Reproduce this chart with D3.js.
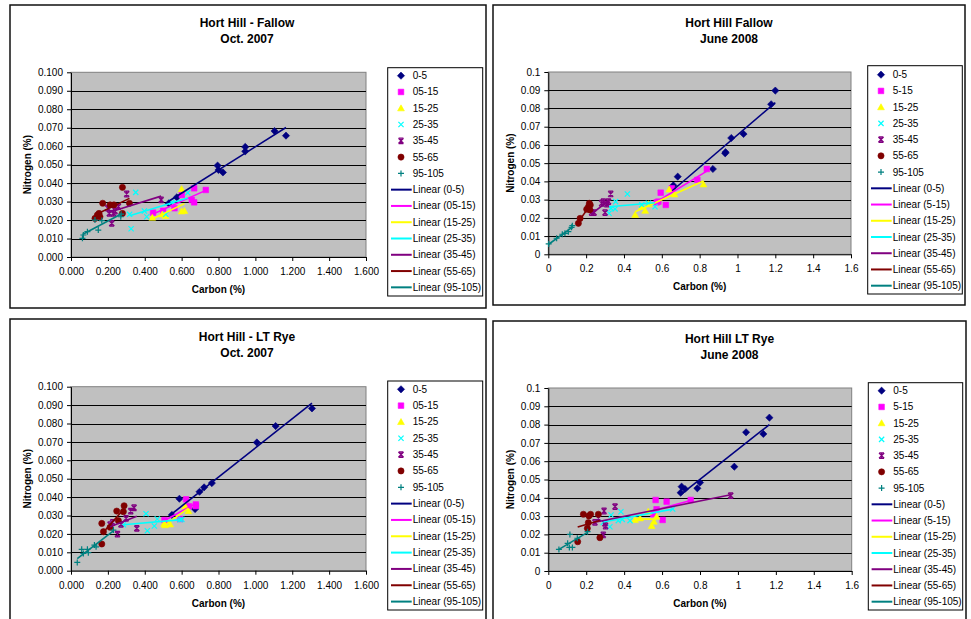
<!DOCTYPE html>
<html><head><meta charset="utf-8">
<script src="https://cdn.jsdelivr.net/npm/d3@7"></script>
<style>body{margin:0;background:#fff}svg{display:block}</style>
</head><body>
<svg id="c" width="971" height="619"></svg>
<script>
// ---------- DATA ----------
const seriesNames2007 = ["0-5","05-15","15-25","25-35","35-45","55-65","95-105"];
const seriesNames2008 = ["0-5","5-15","15-25","25-35","35-45","55-65","95-105"];
const seriesColors = ["#000080","#FF00FF","#FFFF00","#00FFFF","#800080","#800000","#008080"];
const markerShapes = ["diamond","square","triangle","x","star","circle","plus"];
const panelTitles = [["Hort Hill - Fallow","Oct. 2007"],["Hort Hill Fallow","June 2008"],["Hort Hill - LT Rye","Oct. 2007"],["Hort Hill LT Rye","June 2008"]];
const xTitle = "Carbon (%)";
const yTitle = "Nitrogen (%)";
const xTickValues = [0,0.2,0.4,0.6,0.8,1.0,1.2,1.4,1.6];
const xTickLabels2007 = ["0.000","0.200","0.400","0.600","0.800","1.000","1.200","1.400","1.600"];
const xTickLabels2008 = ["0","0.2","0.4","0.6","0.8","1","1.2","1.4","1.6"];
const yTickValues = [0,0.01,0.02,0.03,0.04,0.05,0.06,0.07,0.08,0.09,0.1];
const yTickLabels2007 = ["0.000","0.010","0.020","0.030","0.040","0.050","0.060","0.070","0.080","0.090","0.100"];
const yTickLabels2008 = ["0","0.01","0.02","0.03","0.04","0.05","0.06","0.07","0.08","0.09","0.1"];

// each: 7 series of [carbon %, nitrogen %]
const fallowOct2007 = [
  [[0.530,0.0290],[0.574,0.0323],[0.795,0.0495],[0.800,0.0471],[0.824,0.0458],[0.945,0.0596],[0.945,0.0572],[1.104,0.0682],[1.166,0.0657]],
  [[0.445,0.0240],[0.500,0.0250],[0.561,0.0264],[0.601,0.0336],[0.655,0.0309],[0.668,0.0296],[0.668,0.0372],[0.731,0.0363]],
  [[0.441,0.0213],[0.495,0.0231],[0.513,0.0222],[0.600,0.0368],[0.600,0.0247],[0.615,0.0250]],
  [[0.318,0.0231],[0.326,0.0153],[0.351,0.0350],[0.398,0.0249],[0.411,0.0218],[0.514,0.0231],[0.547,0.0296],[0.633,0.0348]],
  [[0.199,0.0265],[0.208,0.0236],[0.221,0.0182],[0.230,0.0236],[0.239,0.0249],[0.257,0.0273],[0.302,0.0341],[0.489,0.0309]],
  [[0.130,0.0209],[0.143,0.0227],[0.152,0.0236],[0.157,0.0218],[0.172,0.0291],[0.212,0.0282],[0.233,0.0282],[0.279,0.0377],[0.279,0.0236],[0.317,0.0291]],
  [[0.062,0.0101],[0.067,0.0119],[0.089,0.0137],[0.130,0.0200],[0.148,0.0146],[0.167,0.0197],[0.270,0.0218],[0.272,0.0232]]
];
const fallowJun2008 = [
  [[0.655,0.0360],[0.661,0.0378],[0.684,0.0426],[0.870,0.0468],[0.935,0.0554],[0.937,0.0560],[0.967,0.0638],[1.032,0.0660],[1.178,0.0823],[1.200,0.0898]],
  [[0.573,0.0285],[0.582,0.0289],[0.594,0.0338],[0.621,0.0271],[0.653,0.0362],[0.788,0.0408],[0.838,0.0468]],
  [[0.459,0.0216],[0.494,0.0261],[0.512,0.0239],[0.530,0.0275],[0.639,0.0356],[0.667,0.0329],[0.820,0.0384]],
  [[0.321,0.0225],[0.332,0.0252],[0.353,0.0249],[0.356,0.0289],[0.418,0.0331],[0.494,0.0271],[0.529,0.0280],[0.564,0.0261]],
  [[0.229,0.0229],[0.242,0.0229],[0.282,0.0280],[0.291,0.0289],[0.300,0.0229],[0.309,0.0276],[0.318,0.0289],[0.330,0.0331]],
  [[0.159,0.0170],[0.168,0.0197],[0.203,0.0247],[0.212,0.0261],[0.217,0.0280],[0.220,0.0243],[0.222,0.0270]],
  [[0.002,0.0057],[0.044,0.0088],[0.074,0.0110],[0.088,0.0115],[0.106,0.0124],[0.123,0.0148],[0.127,0.0157]]
];
const ryeOct2007 = [
  [[0.547,0.0303],[0.588,0.0391],[0.673,0.0335],[0.697,0.0429],[0.722,0.0453],[0.764,0.0476],[1.008,0.0697],[1.110,0.0786],[1.307,0.0882]],
  [[0.507,0.0275],[0.592,0.0281],[0.624,0.0388],[0.640,0.0350],[0.677,0.0351],[0.677,0.0360]],
  [[0.505,0.0255],[0.510,0.0248],[0.538,0.0252],[0.619,0.0350],[0.637,0.0324]],
  [[0.284,0.0250],[0.407,0.0310],[0.414,0.0217],[0.452,0.0243],[0.468,0.0281],[0.591,0.0277],[0.601,0.0279]],
  [[0.212,0.0250],[0.226,0.0263],[0.252,0.0199],[0.271,0.0252],[0.299,0.0284],[0.324,0.0324],[0.342,0.0342],[0.357,0.0230]],
  [[0.167,0.0257],[0.167,0.0145],[0.176,0.0212],[0.212,0.0236],[0.248,0.0324],[0.257,0.0272],[0.284,0.0321],[0.288,0.0353]],
  [[0.034,0.0045],[0.058,0.0116],[0.067,0.0094],[0.089,0.0116],[0.094,0.0098],[0.127,0.0139],[0.136,0.0130],[0.230,0.0221]]
];
const ryeJun2008 = [
  [[0.698,0.0428],[0.703,0.0461],[0.721,0.0448],[0.786,0.0452],[0.800,0.0483],[0.981,0.0570],[1.043,0.0758],[1.134,0.0749],[1.166,0.0838]],
  [[0.554,0.0310],[0.566,0.0388],[0.571,0.0337],[0.603,0.0279],[0.624,0.0379],[0.751,0.0388]],
  [[0.457,0.0279],[0.484,0.0288],[0.527,0.0324],[0.545,0.0246],[0.557,0.0270],[0.571,0.0297]],
  [[0.290,0.0265],[0.325,0.0242],[0.331,0.0306],[0.369,0.0275],[0.383,0.0324],[0.390,0.0282],[0.431,0.0275],[0.656,0.0339]],
  [[0.246,0.0266],[0.264,0.0288],[0.290,0.0197],[0.294,0.0328],[0.299,0.0260],[0.302,0.0246],[0.352,0.0352],[0.962,0.0412]],
  [[0.155,0.0160],[0.185,0.0310],[0.206,0.0233],[0.211,0.0264],[0.214,0.0301],[0.223,0.0310],[0.264,0.0310],[0.272,0.0182]],
  [[0.056,0.0118],[0.102,0.0151],[0.111,0.0129],[0.114,0.0200],[0.127,0.0129],[0.153,0.0179],[0.207,0.0215]]
];

// ---------- LAYOUT ----------
const FONT = "'Liberation Sans', Arial, sans-serif";
const panels = [
  {data: fallowOct2007, title: panelTitles[0], names: seriesNames2007, xl: xTickLabels2007, yl: yTickLabels2007,
   frame:[10,5,486,308], plot:[71,72.3,366,257], legend:[387.7,67.7,482.7,296], legY0:75.7, legDy:16.28,
   titleX:247, titleY:[22.7,39], xLabY:271, xTitleY:289.3, yTitleX:27.3},
  {data: fallowJun2008, title: panelTitles[1], names: seriesNames2008, xl: xTickLabels2008, yl: yTickLabels2008,
   frame:[493,5,965,305], plot:[548.3,72,851,254.3], legend:[867.7,65.7,962.3,294], legY0:74.7, legDy:16.23,
   titleX:729, titleY:[22.7,39], xLabY:268.3, xTitleY:286.7, yTitleX:510},
  {data: ryeOct2007, title: panelTitles[2], names: seriesNames2007, xl: xTickLabels2007, yl: yTickLabels2007,
   frame:[10,319,486,640], plot:[71,386.7,366,570.7], legend:[387.7,381,482.7,610], legY0:389.3, legDy:16.33,
   titleX:247, titleY:[336.7,352.7], xLabY:585.3, xTitleY:603.7, yTitleX:27.3},
  {data: ryeJun2008, title: panelTitles[3], names: seriesNames2008, xl: xTickLabels2008, yl: yTickLabels2008,
   frame:[493,321,966,640], plot:[548.3,388,851.7,571], legend:[868.3,382.7,962.7,610], legY0:390.7, legDy:16.23,
   titleX:729.5, titleY:[339,355], xLabY:585.3, xTitleY:603.7, yTitleX:510}
];

function markerPath(shape){
  switch(shape){
    case "diamond": return "M0,-3.6L3.6,0L0,3.6L-3.6,0Z";
    case "square": return "M-2.8,-2.8H2.8V2.8H-2.8Z";
    case "triangle": return "M0,-3.4L3.4,2.6H-3.4Z";
    case "x": return "M-2.6,-2.6L2.6,2.6M2.6,-2.6L-2.6,2.6";
    case "star": return "M-2.6,-2.6L2.6,2.6M2.6,-2.6L-2.6,2.6M0,-3L0,3M-2.4,-2.8H2.4M-2.4,2.8H2.4";
    case "circle": return d3.symbol(d3.symbolCircle, 30)();
    case "plus": return "M-3,0H3M0,-3V3";
  }
}
function styleMarker(sel, shape, color){
  if (shape==="x"||shape==="star"||shape==="plus"){
    sel.attr("fill","none").attr("stroke",color).attr("stroke-width",1.2);
  } else {
    sel.attr("fill",color).attr("stroke",color).attr("stroke-width",0.6);
  }
}
function fitLine(pts){
  const mx = d3.mean(pts,d=>d[0]), my = d3.mean(pts,d=>d[1]);
  let sxy=0, sxx=0;
  pts.forEach(([a,b])=>{ sxy+=(a-mx)*(b-my); sxx+=(a-mx)*(a-mx); });
  const m = sxy/sxx, c = my - m*mx;
  const [x0,x1] = d3.extent(pts,d=>d[0]);
  return [[x0,m*x0+c],[x1,m*x1+c]];
}

const svg = d3.select("#c");
svg.append("rect").attr("width",971).attr("height",619).attr("fill","#fff");

panels.forEach(p=>{
  const g = svg.append("g");
  g.append("rect").attr("x",p.frame[0]).attr("y",p.frame[1])
    .attr("width",p.frame[2]-p.frame[0]).attr("height",p.frame[3]-p.frame[1])
    .attr("fill","#fff").attr("stroke","#111").attr("stroke-width",1.5);

  const x = d3.scaleLinear().domain([0,1.6]).range([p.plot[0],p.plot[2]]);
  const y = d3.scaleLinear().domain([0,0.1]).range([p.plot[3],p.plot[1]]);

  g.append("rect").attr("x",p.plot[0]).attr("y",p.plot[1])
    .attr("width",p.plot[2]-p.plot[0]).attr("height",p.plot[3]-p.plot[1])
    .attr("fill","#C0C0C0").attr("stroke","#808080").attr("stroke-width",1);

  // gridlines
  g.append("g").selectAll("line").data(yTickValues.slice(1,-1)).join("line")
    .attr("x1",p.plot[0]).attr("x2",p.plot[2])
    .attr("y1",d=>Math.round(y(d))+0.5).attr("y2",d=>Math.round(y(d))+0.5)
    .attr("stroke","#000").attr("stroke-width",1);

  // axes
  const ya = g.append("g").attr("transform",`translate(${p.plot[0]},0)`)
    .call(d3.axisLeft(y).tickValues(yTickValues).tickFormat((d,i)=>p.yl[i]).tickSize(4).tickSizeOuter(0).tickPadding(4));
  const xa = g.append("g").attr("transform",`translate(0,${p.plot[3]})`)
    .call(d3.axisBottom(x).tickValues(xTickValues).tickFormat((d,i)=>p.xl[i]).tickSize(4).tickSizeOuter(0).tickPadding(4));
  [ya,xa].forEach(a=>{
    a.selectAll("path,line").attr("stroke","#000");
    a.selectAll("text").attr("font-family",FONT).attr("font-size","10px").attr("fill","#000");
  });
  xa.selectAll("text").attr("y",0).attr("dy",null).attr("dominant-baseline","central")
    .attr("transform",`translate(0,${p.xLabY-p.plot[3]})`);

  // axis titles
  g.append("text").attr("x",(p.plot[0]+p.plot[2])/2).attr("y",p.xTitleY).attr("dominant-baseline","central")
    .attr("text-anchor","middle").attr("font-family",FONT).attr("font-size","10px").attr("font-weight","bold").text(xTitle);
  g.append("text").attr("transform",`translate(${p.yTitleX},${(p.plot[1]+p.plot[3])/2}) rotate(-90)`)
    .attr("dominant-baseline","central").attr("text-anchor","middle")
    .attr("font-family",FONT).attr("font-size","10px").attr("font-weight","bold").text(yTitle);

  // titles
  p.title.forEach((t,i)=>{
    g.append("text").attr("x",p.titleX).attr("y",p.titleY[i]).attr("dominant-baseline","central")
      .attr("text-anchor","middle").attr("font-family",FONT).attr("font-size","12px").attr("font-weight","bold").text(t);
  });

  // markers
  p.data.forEach((pts,si)=>{
    const sel = g.append("g").selectAll("path").data(pts).join("path")
      .attr("transform",d=>`translate(${x(d[0])},${y(d[1])})`)
      .attr("d",markerPath(markerShapes[si]));
    styleMarker(sel, markerShapes[si], seriesColors[si]);
  });
  // trendlines
  const line = d3.line().x(d=>x(d[0])).y(d=>y(d[1]));
  p.data.forEach((pts,si)=>{
    g.append("path").attr("d",line(fitLine(pts))).attr("fill","none")
      .attr("stroke",seriesColors[si]).attr("stroke-width",1.6);
  });

  // legend
  const L = p.legend;
  g.append("rect").attr("x",L[0]).attr("y",L[1]).attr("width",L[2]-L[0]).attr("height",L[3]-L[1])
    .attr("fill","#fff").attr("stroke","#000").attr("stroke-width",1);
  const entries = [];
  p.names.forEach((n,i)=>entries.push({type:"m", i, label:n}));
  p.names.forEach((n,i)=>entries.push({type:"l", i, label:`Linear (${n})`}));
  entries.forEach((e,k)=>{
    const cy = p.legY0 + k*p.legDy;
    if (e.type==="m"){
      const m = g.append("path").attr("transform",`translate(${L[0]+13.3},${cy})`).attr("d",markerPath(markerShapes[e.i]));
      styleMarker(m, markerShapes[e.i], seriesColors[e.i]);
    } else {
      g.append("line").attr("x1",L[0]+3.3).attr("x2",L[0]+24).attr("y1",cy).attr("y2",cy)
        .attr("stroke",seriesColors[e.i]).attr("stroke-width",2);
    }
    g.append("text").attr("x",L[0]+25).attr("y",cy).attr("dominant-baseline","central")
      .attr("font-family",FONT).attr("font-size","10px").attr("fill","#000").text(e.label);
  });
});
</script>
</body></html>
